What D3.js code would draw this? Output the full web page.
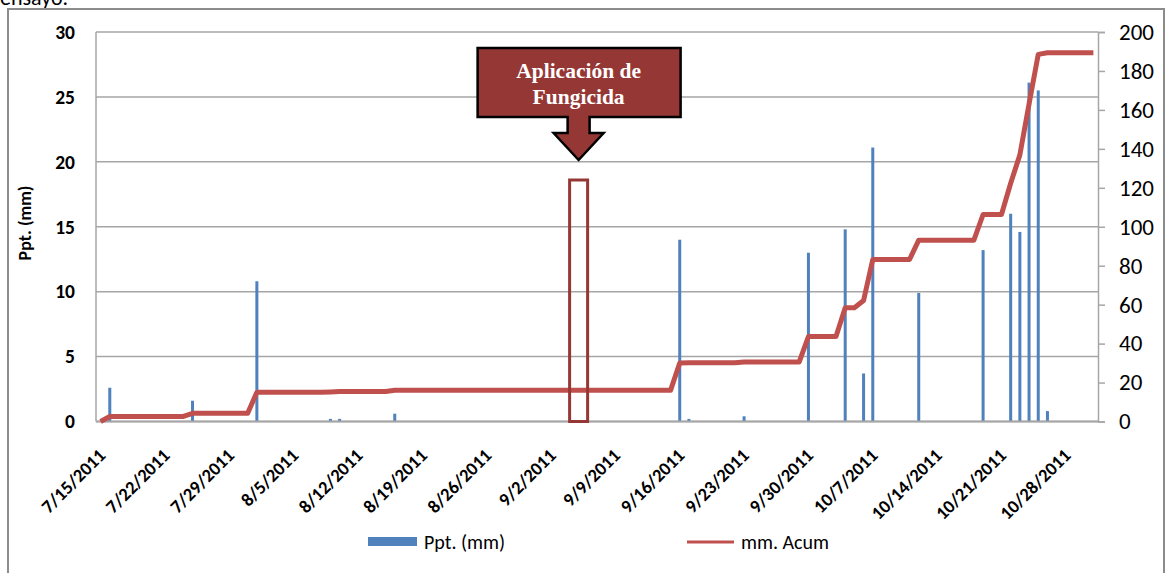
<!DOCTYPE html>
<html>
<head>
<meta charset="utf-8">
<script src="https://cdn.jsdelivr.net/npm/d3@7"></script>
<style>
  html, body { margin: 0; padding: 0; background: #fff; }
  svg { display: block; }
</style>
</head>
<body>
<svg id="chart" width="1167" height="573"></svg>
<script>
// ---------------- DATA ----------------
const startDate = "7/15/2011";
const endDate = "10/31/2011";

// Daily precipitation (only days with rain)
const rainDates = ["7/16/2011","7/25/2011","8/1/2011","8/9/2011","8/10/2011","8/16/2011",
  "9/16/2011","9/17/2011","9/23/2011","9/30/2011","10/4/2011","10/6/2011","10/7/2011",
  "10/12/2011","10/19/2011","10/22/2011","10/23/2011","10/24/2011","10/25/2011","10/26/2011"];
const rainValues = [2.6,1.6,10.8,0.2,0.2,0.6,
  14.0,0.2,0.4,13.0,14.8,3.7,21.1,
  9.9,13.2,16.0,14.6,26.1,25.5,0.8];

// Accumulated mm, one value per day from 7/15/2011 to 10/31/2011
const acumValues = [
  0,
  2.6,2.6,2.6,2.6,2.6,2.6,2.6,2.6,2.6,
  4.2,4.2,4.2,4.2,4.2,4.2,4.2,
  15.0,15.0,15.0,15.0,15.0,15.0,15.0,15.0,
  15.2,
  15.4,15.4,15.4,15.4,15.4,15.4,
  16.0,16.0,16.0,16.0,16.0,16.0,16.0,16.0,16.0,16.0,16.0,16.0,16.0,16.0,16.0,16.0,
  16.0,16.0,16.0,16.0,16.0,16.0,16.0,16.0,16.0,16.0,16.0,16.0,16.0,16.0,16.0,
  30.0,
  30.2,30.2,30.2,30.2,30.2,30.2,
  30.6,30.6,30.6,30.6,30.6,30.6,30.6,
  43.6,43.6,43.6,43.6,
  58.4,58.4,
  62.1,
  83.2,83.2,83.2,83.2,83.2,
  93.1,93.1,93.1,93.1,93.1,93.1,93.1,
  106.3,106.3,106.3,
  122.3,136.9,163.0,188.5,
  189.3,189.3,189.3,189.3,189.3,189.3
];

const xTickLabels = ["7/15/2011","7/22/2011","7/29/2011","8/5/2011","8/12/2011","8/19/2011",
  "8/26/2011","9/2/2011","9/9/2011","9/16/2011","9/23/2011","9/30/2011","10/7/2011",
  "10/14/2011","10/21/2011","10/28/2011"];
const leftTicks = [0,5,10,15,20,25,30];
const rightTicks = [0,20,40,60,80,100,120,140,160,180,200];

const seriesNames = ["Ppt. (mm)", "mm. Acum"];
const yLeftTitle = "Ppt. (mm)";
const topText = "ensayo.";
const calloutLines = ["Aplicación de", "Fungicida"];
const fungicideDate = "9/5/2011";
const fungicideTop = 18.6;   // in mm (left axis units)

// ---------------- LAYOUT ----------------
const W = 1167, H = 573;
const plot = { left: 96, right: 1098, top: 32, bottom: 421.5 };
const blue = "#4F81BD", red = "#C0504D", dark = "#953735";
const sans = "Carlito, Calibri, Lato, 'Liberation Sans', sans-serif";

const parse = d3.utcParse("%m/%d/%Y");
const half = 12 * 3600 * 1000;
const x = d3.scaleUtc()
  .domain([new Date(+parse(startDate) - half), new Date(+parse(endDate) + half)])
  .range([plot.left, plot.right]);
const yL = d3.scaleLinear().domain([0, 30]).range([plot.bottom, plot.top]);
const yR = d3.scaleLinear().domain([0, 200]).range([plot.bottom, plot.top]);

const svg = d3.select("#chart");

// top clipped text
svg.append("text").attr("x", 0).attr("y", 5)
  .attr("font-family", sans).attr("font-size", 22).attr("fill", "#000")
  .text(topText);

// outer chart frame
svg.append("rect").attr("x", 8).attr("y", 9).attr("width", 1156).attr("height", 600)
  .attr("fill", "none").attr("stroke", "#8c8c8c").attr("stroke-width", 2);

// gridlines
svg.append("g").selectAll("line").data(leftTicks).join("line")
  .attr("x1", plot.left).attr("x2", plot.right)
  .attr("y1", d => yL(d)).attr("y2", d => yL(d))
  .attr("stroke", "#a6a6a6").attr("stroke-width", 1.5);

// left axis line
svg.append("line").attr("x1", plot.left).attr("x2", plot.left)
  .attr("y1", plot.top).attr("y2", plot.bottom)
  .attr("stroke", "#a6a6a6").attr("stroke-width", 1.5);

// left axis labels
const gL = svg.append("g").attr("transform", `translate(${plot.left},0)`)
  .call(d3.axisLeft(yL).tickValues(leftTicks).tickSize(0).tickPadding(21));
gL.select(".domain").remove();
gL.selectAll("text").attr("font-family", sans).attr("font-size", 19.5)
  .attr("font-weight", "bold").attr("fill", "#000");

// right axis
const gR = svg.append("g").attr("transform", `translate(${plot.right},0)`)
  .call(d3.axisRight(yR).tickValues(rightTicks).tickSize(7).tickPadding(14));
gR.select(".domain").attr("stroke", "#a6a6a6").attr("stroke-width", 1.5);
gR.selectAll("line").attr("stroke", "#a6a6a6").attr("stroke-width", 1.5);
gR.selectAll("text").attr("font-family", sans).attr("font-size", 23).attr("fill", "#000");

// y axis title
svg.append("text")
  .attr("transform", `translate(31,${223}) rotate(-90)`)
  .attr("text-anchor", "middle")
  .attr("font-family", sans).attr("font-size", 18).attr("font-weight", "bold")
  .text(yLeftTitle);

// bars
const rain = rainDates.map((d, i) => ({ date: parse(d), v: rainValues[i] }));
svg.append("g").selectAll("rect").data(rain).join("rect")
  .attr("x", d => x(d.date) - 1.5).attr("width", 3)
  .attr("y", d => yL(d.v)).attr("height", d => yL(0) - yL(d.v))
  .attr("fill", blue);

// bottom axis line
svg.append("line").attr("x1", plot.left).attr("x2", plot.right)
  .attr("y1", plot.bottom).attr("y2", plot.bottom)
  .attr("stroke", "#a6a6a6").attr("stroke-width", 2);

// accumulated line
const acum = acumValues.map((v, i) => ({ date: d3.utcDay.offset(parse(startDate), i), v }));
svg.append("path").datum(acum)
  .attr("fill", "none").attr("stroke", red).attr("stroke-width", 5)
  .attr("stroke-linejoin", "round")
  .attr("d", d3.line().x(d => x(d.date)).y(d => yR(d.v)));

// x tick labels
svg.append("g").selectAll("text").data(xTickLabels).join("text")
  .attr("transform", d => `translate(${x(parse(d)) + 6},${plot.bottom + 35}) rotate(-45)`)
  .attr("text-anchor", "end")
  .attr("font-family", sans).attr("font-size", 18.5).attr("font-weight", "bold")
  .text(d => d);

// fungicide rectangle
const fx = x(parse(fungicideDate));
svg.append("rect")
  .attr("x", fx - 9).attr("width", 18)
  .attr("y", yL(fungicideTop)).attr("height", yL(0) - yL(fungicideTop))
  .attr("fill", "none").attr("stroke", dark).attr("stroke-width", 3);

// callout (box + down arrow)
const cx = fx;
const bx0 = cx - 101, bx1 = cx + 102, by0 = 48, by1 = 117;
const sh = 11, ah = 25, shaftBottom = 133, tipY = 160;
const calloutPath = [
  [bx0, by0], [bx1, by0], [bx1, by1], [cx + sh, by1], [cx + sh, shaftBottom],
  [cx + ah, shaftBottom], [cx, tipY], [cx - ah, shaftBottom], [cx - sh, shaftBottom],
  [cx - sh, by1], [bx0, by1]
];
svg.append("path")
  .attr("d", d3.line()(calloutPath) + "Z")
  .attr("fill", dark).attr("stroke", "#000").attr("stroke-width", 2.5)
  .attr("stroke-linejoin", "miter");
svg.append("g").selectAll("text").data(calloutLines).join("text")
  .attr("x", cx).attr("y", (d, i) => 78 + i * 26)
  .attr("text-anchor", "middle")
  .attr("font-family", "'Liberation Serif', 'Times New Roman', serif")
  .attr("font-size", 21.5).attr("font-weight", "bold").attr("fill", "#fff")
  .text(d => d);

// legend
const lg = svg.append("g");
lg.append("rect").attr("x", 368).attr("y", 537).attr("width", 49).attr("height", 9).attr("fill", blue);
lg.append("text").attr("x", 424).attr("y", 549).attr("font-family", sans).attr("font-size", 20)
  .text(seriesNames[0]);
lg.append("line").attr("x1", 687).attr("x2", 734).attr("y1", 542).attr("y2", 542)
  .attr("stroke", red).attr("stroke-width", 3);
lg.append("text").attr("x", 741).attr("y", 549).attr("font-family", sans).attr("font-size", 20)
  .text(seriesNames[1]);
</script>
</body>
</html>
